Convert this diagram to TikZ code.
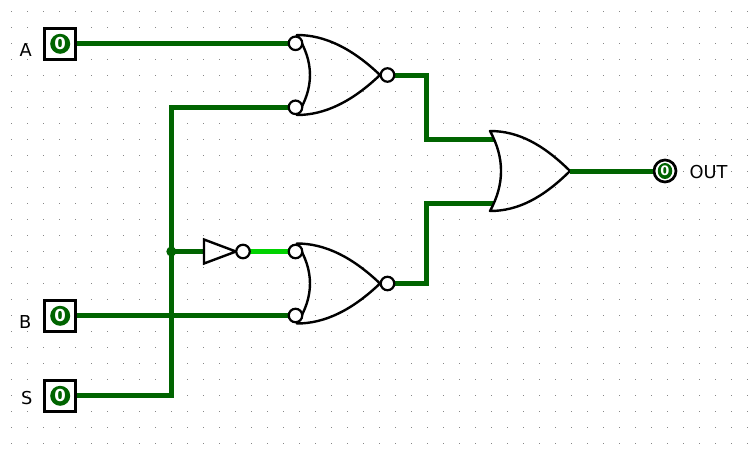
\documentclass[tikz,border=0pt]{standalone}
\usepackage{fontspec}
\setmainfont{DejaVu Sans}
\usetikzlibrary{shapes.geometric}
\begin{document}
\begin{tikzpicture}[x=1pt,y=-1pt,
  wire/.style={line width=5pt, draw=wdark, line join=miter},
  wirehi/.style={line width=5pt, draw=wlight},
  gate/.style={line width=2.4pt, draw=black, line join=round},
  bubble/.style={circle, draw=black, line width=2.2pt, fill=white, minimum size=13.5pt, inner sep=0pt},
  pinbox/.style={rectangle, draw=black, line width=2.7pt, fill=white, minimum size=30.8pt, inner sep=0pt},
  pinval/.style={circle, fill=wdark, text=white, minimum size=20pt, inner sep=0pt, font=\fontsize{16.5}{16}\selectfont\bfseries},
  outring/.style={circle, draw=black, line width=2.7pt, fill=white, minimum size=22pt, inner sep=0pt},
  outval/.style={ellipse, fill=wdark, text=white, minimum width=14.5pt, minimum height=16pt, inner sep=0pt, font=\fontsize{13}{13}\selectfont\bfseries},
  lbl/.style={font=\fontsize{17.8}{18}\selectfont, inner sep=0pt},
  junction/.style={circle, fill=wdark, minimum size=10pt, inner sep=0pt},
  norbody/.pic={
    \draw[gate] (-83,-40) .. controls (-55.3,-40) and (-28,-26.7) .. (0,0)
      .. controls (-28,26.7) and (-55.3,40) .. (-83,40)
      .. controls (-65.7,13.3) and (-65.7,-13.3) .. cycle;
  },
  orbody/.pic={
    \draw[gate] (-80,-40) .. controls (-52,-40) and (-27,-26.7) .. (0,0)
      .. controls (-27,26.7) and (-52,40) .. (-80,40)
      .. controls (-65.3,13.3) and (-65.3,-13.3) .. cycle;
  }
]
\definecolor{wdark}{RGB}{0,100,0}
\definecolor{wlight}{RGB}{0,210,0}
\definecolor{dotc}{RGB}{135,135,135}
\useasboundingbox (0,0) rectangle (750,453);
\fill[white] (0,0) rectangle (750,453);
% grid
\foreach \i in {0,...,46}{
  \foreach \j in {0,...,27}{
    \fill[dotc] ({11.3+16*\i-0.5},{11.3+16*\j-0.5}) rectangle ++(1,1);
  }
}
% gate reference points
\coordinate (n1) at (380,75);
\coordinate (n2) at (380,283.5);
\coordinate (org) at (570,171);
\coordinate (n1a) at (288.5,43.3);
\coordinate (n1b) at (288.5,107.3);
\coordinate (n2a) at (288.5,251.5);
\coordinate (n2b) at (288.5,315.5);
\coordinate (n1o) at (394,75);
\coordinate (n2o) at (394,283.5);
\coordinate (ora) at (494,139);
\coordinate (orb) at (494,203);
\coordinate (k1) at (426.7,75);
\coordinate (k2) at (426.7,283.5);
\coordinate (nin) at (204,251.5);
\coordinate (nout) at (249.5,251.5);
\coordinate (sx) at (171.3,395.8);
\coordinate (tx) at (171.3,107.3);
% pins
\node[pinbox] (pA) at (60.2,43.8) {};
\node[pinbox] (pB) at (60.2,315.8) {};
\node[pinbox] (pS) at (60.2,395.8) {};
\node[lbl, anchor=base east] (lA) at (32,56) {A};
\node[lbl, anchor=base east] (lB) at (31.5,328.3) {B};
\node[lbl, anchor=base east] (lS) at (32.5,404.5) {S};
% wires
\draw[wire] (pA.east |- n1a) -- (n1a);
\draw[wire] (pB.east |- n2b) -- (n2b);
\draw[wire] (pS.east |- sx) -- (sx) -- (tx) -- (n1b);
\draw[wire] (tx |- nin) -- (nin);
\draw[wirehi] (nout) -- (n2a);
\draw[wire] (n1o) -- (k1) -- (k1 |- ora) -- (ora);
\draw[wire] (n2o) -- (k2) -- (k2 |- orb) -- (orb);
\node[junction] (jn) at (tx |- nin) {};
% pin values
\node[pinval] (vA) at (pA) {0};
\node[pinval] (vB) at (pB) {0};
\node[pinval] (vS) at (pS) {0};
% gates
\pic at (n1) {norbody};
\pic at (n2) {norbody};
\node[bubble] (b1a) at (295.5,43.3) {};
\node[bubble] (b1b) at (295.5,107.3) {};
\node[bubble] (b1o) at (387.5,75) {};
\node[bubble] (b2a) at (295.5,251.5) {};
\node[bubble] (b2b) at (295.5,315.5) {};
\node[bubble] (b2o) at (387.5,283.5) {};
\pic at (org) {orbody};
% not gate
\draw[gate, line join=miter] (204,239.5) -- (236,251.5) -- (204,263.5) -- cycle;
\node[bubble] (bn) at (243,251.5) {};
% output
\node[outring] (pOut) at (665,171) {};
\draw[wire] (org) -- (pOut.west);
\node[outval] (vOut) at (pOut) {0};
\node[lbl, anchor=west] (lOut) at (689.5,172) {OUT};
\end{tikzpicture}
\end{document}
